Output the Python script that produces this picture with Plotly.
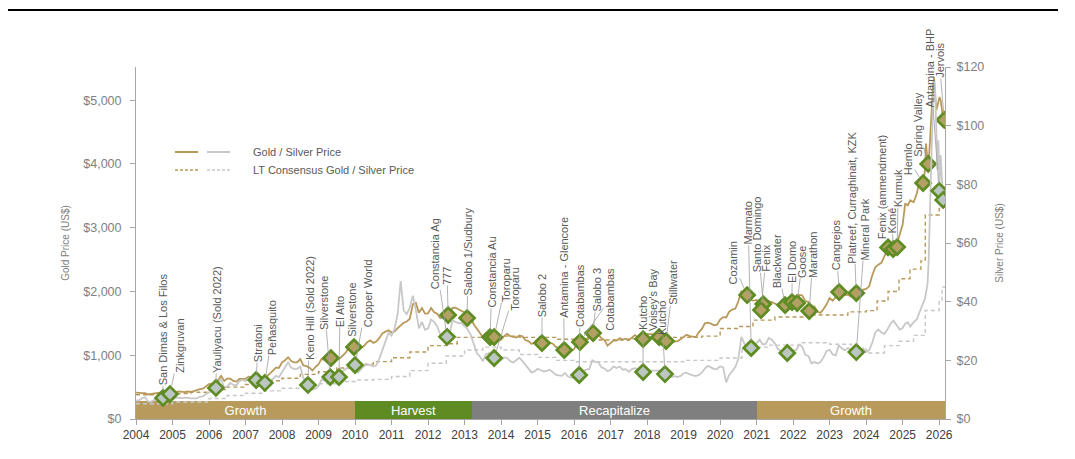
import plotly.graph_objects as go

# ---------------- data ----------------
gold_monthly = [
    414, 405, 406, 404, 384, 392, 398, 400, 406, 420, 439, 442,
    424, 423, 434, 429, 422, 431, 424, 438, 456, 470, 476, 510,
    549, 555, 557, 610, 676, 596, 633, 632, 598, 586, 628, 629,
    631, 665, 655, 679, 667, 655, 665, 665, 712, 754, 806, 803,
    889, 922, 968, 909, 888, 890, 939, 839, 829, 806, 760, 816,
    858, 943, 924, 890, 928, 946, 934, 949, 996, 1043, 1127, 1135,
    1118, 1095, 1113, 1148, 1205, 1233, 1193, 1215, 1271, 1343, 1370, 1391,
    1356, 1372, 1424, 1473, 1510, 1529, 1573, 1800, 1820, 1666, 1739, 1652,
    1656, 1742, 1673, 1650, 1585, 1596, 1594, 1626, 1744, 1747, 1722, 1684,
    1671, 1627, 1593, 1487, 1414, 1343, 1286, 1347, 1349, 1316, 1275, 1225,
    1244, 1300, 1336, 1299, 1287, 1279, 1311, 1296, 1239, 1222, 1176, 1200,
    1251, 1227, 1179, 1198, 1199, 1181, 1131, 1117, 1125, 1157, 1086, 1068,
    1097, 1199, 1245, 1242, 1260, 1276, 1337, 1341, 1326, 1266, 1238, 1151,
    1192, 1234, 1231, 1266, 1246, 1260, 1236, 1283, 1315, 1280, 1283, 1265,
    1331, 1331, 1325, 1335, 1303, 1282, 1238, 1201, 1198, 1215, 1221, 1250,
    1291, 1320, 1300, 1286, 1284, 1359, 1413, 1500, 1510, 1495, 1470, 1480,
    1560, 1597, 1592, 1683, 1716, 1732, 1847, 2010, 1922, 1900, 1866, 1858,
    1867, 1808, 1718, 1760, 1850, 1834, 1807, 1785, 1776, 1777, 1821, 1790,
    1817, 1856, 1948, 1937, 1849, 1837, 1732, 1765, 1681, 1664, 1726, 1798,
    1898, 1855, 1913, 2000, 1992, 1943, 1950, 1919, 1916, 1916, 1985, 2030,
    2040, 2080, 2250, 2380, 2420, 2450, 2550, 2650, 2700,
]
silver_monthly = [
    6.3, 6.3, 7.1, 7.4, 5.9, 5.9, 6.5, 6.6, 6.3, 7.1, 7.5, 7.0,
    6.7, 7.2, 7.3, 7.1, 7.2, 7.3, 7.0, 6.9, 7.0, 7.6, 7.7, 8.5,
    9.0, 9.6, 10.4, 12.6, 13.4, 10.7, 11.1, 12.3, 11.6, 11.5, 12.9, 13.3,
    12.9, 13.9, 13.1, 13.6, 13.3, 13.3, 12.9, 12.1, 12.8, 13.7, 14.7, 14.3,
    16.0, 17.6, 19.3, 17.5, 17.0, 17.1, 17.8, 14.1, 12.0, 10.2, 10.0, 10.3,
    11.3, 13.4, 13.1, 12.5, 14.0, 14.7, 13.4, 14.3, 16.4, 17.2, 17.8, 17.6,
    17.8, 15.9, 17.1, 18.1, 18.5, 18.4, 17.9, 18.3, 20.6, 23.3, 26.5, 29.4,
    28.4, 30.7, 35.8, 47.0, 37.0, 35.8, 38.0, 42.0, 37.2, 30.9, 33.1, 30.4,
    30.9, 33.9, 33.1, 31.6, 28.9, 28.1, 27.4, 28.6, 33.6, 33.1, 32.7, 32.7,
    31.7, 30.6, 28.8, 25.2, 22.5, 21.4, 19.7, 22.0, 22.5, 21.9, 20.7, 19.6,
    20.0, 21.0, 20.8, 19.7, 19.3, 20.1, 20.9, 19.8, 18.4, 17.2, 15.9, 16.2,
    17.1, 16.7, 16.2, 16.4, 16.8, 16.0, 15.0, 14.9, 14.7, 15.7, 14.5, 14.1,
    14.0, 15.0, 15.4, 16.3, 16.8, 17.0, 20.0, 19.5, 19.3, 17.6, 17.2, 16.3,
    16.8, 17.9, 17.4, 17.9, 16.8, 17.0, 16.1, 17.0, 17.3, 17.1, 17.0, 16.1,
    17.2, 16.6, 16.5, 16.6, 16.5, 16.5, 15.6, 14.9, 14.3, 14.6, 14.3, 14.7,
    15.6, 15.8, 15.2, 15.0, 14.6, 15.0, 15.8, 17.2, 18.1, 17.6, 17.0, 17.1,
    18.0, 17.6, 12.5, 15.0, 16.2, 17.7, 20.5, 28.0, 25.6, 24.2, 23.7, 24.9,
    25.9, 27.0, 25.4, 25.6, 27.6, 27.0, 25.7, 23.9, 23.1, 23.4, 24.3, 22.4,
    23.4, 23.5, 25.4, 24.6, 21.9, 21.5, 19.0, 19.4, 18.9, 19.4, 21.0, 23.2,
    23.6, 22.0, 21.7, 25.1, 24.1, 23.4, 24.2, 23.5, 23.0, 22.4, 23.6, 24.1,
    22.8, 23.5, 26.0, 29.5, 30.5, 29.5, 29.0, 30.5, 32.5,
]
tail_years = [2024.75, 2024.83, 2024.92, 2025.0, 2025.07, 2025.14, 2025.21, 2025.3, 2025.39, 2025.48,
              2025.53, 2025.57, 2025.61, 2025.64, 2025.68, 2025.71, 2025.75, 2025.78, 2025.8, 2025.83,
              2025.86, 2025.89, 2025.92, 2025.95, 2025.98, 2026.01, 2026.04, 2026.07, 2026.1, 2026.14]
gold_tail = [2690, 2720, 2900, 3050, 3380, 3350, 3430, 3400, 3540, 3780,
             3680, 3700, 3900, 4320, 4050, 4000, 4370, 4700, 5000, 5200,
             5360, 5150, 4840, 4900, 4980, 5050, 5000, 4850, 4750, 4690]
silver_tail = [33.5, 32, 30.5, 31, 32.5, 33, 31.5, 33, 34, 37,
               38.5, 40, 41, 43, 46, 53, 75, 88, 97, 108,
               115, 112, 100, 85, 95, 80, 90, 82, 76, 74]

price_years = [round(2004 + i / 12, 4) for i in range(len(gold_monthly))] + tail_years
gold_price = gold_monthly + gold_tail
silver_price = silver_monthly + silver_tail

lt_gold_years = [2004.0, 2005.0, 2005.5, 2006.0, 2006.5, 2007.0, 2007.5, 2008.0, 2008.5, 2009.0,
                 2009.5, 2010.0, 2010.5, 2011.0, 2011.5, 2012.0, 2012.5, 2012.8, 2013.5, 2014.5,
                 2015.5, 2016.5, 2017.5, 2018.5, 2019.5, 2020.0, 2020.5, 2020.9, 2021.5, 2022.5,
                 2023.5, 2024.0, 2024.3, 2024.6, 2024.9, 2025.2, 2025.5, 2025.62, 2026.0, 2026.08, 2026.16]
lt_gold = [380, 400, 420, 460, 500, 540, 600, 640, 700, 740,
           800, 860, 900, 960, 1050, 1150, 1180, 1280, 1300, 1280,
           1250, 1240, 1260, 1280, 1300, 1420, 1450, 1550, 1600, 1630,
           1680, 1700, 1850, 2000, 2200, 2350, 2480, 3200, 3300, 3600, 3650]
lt_silver_years = [2004.0, 2005.0, 2006.0, 2006.5, 2007.0, 2007.5, 2008.0, 2008.5, 2009.0, 2009.5,
                   2010.0, 2010.5, 2011.0, 2011.5, 2012.0, 2012.5, 2013.0, 2013.5, 2014.0, 2014.5,
                   2015.0, 2015.5, 2016.0, 2017.0, 2018.0, 2019.0, 2020.0, 2020.6, 2021.3, 2022.2,
                   2023.0, 2023.6, 2024.0, 2024.5, 2024.9, 2025.3, 2025.62, 2026.0, 2026.08, 2026.16]
lt_silver = [5.2, 5.8, 7.0, 8.0, 8.8, 9.6, 10.5, 11.5, 12.0, 12.8,
             13.3, 13.5, 14.5, 16.5, 19.0, 21.5, 23.5, 24.5, 23.5, 22.0,
             21.0, 20.0, 19.5, 19.5, 19.5, 20.0, 20.8, 24.5, 25.2, 26.0,
             25.5, 24.0, 22.5, 25.0, 26.5, 28.5, 37.0, 40.0, 45.0, 45.0]

phase_names = ["Growth", "Harvest", "Recapitalize", "Growth"]
phase_start = [2004.0, 2010.0, 2013.2, 2021.0]
phase_end = [2010.0, 2013.2, 2021.0, 2026.16]

deal_labels = ["San Dimas & Los Filos", "Zinkgruvan", "Yauliyacu (Sold 2022)", "Stratoni", "Peñasquito",
               "Keno Hill (Sold 2022)", "", "Silverstone", "El Alto", "Silverstone", "Copper World",
               "Constancia Ag", "777", "Salobo 1/Sudbury", "Constancia Au", "Toroparu", "Toroparu",
               "Salobo 2", "Antamina - Glencore", "Cotabambas", "Cotabambas", "Salobo 3",
               "", "Kutcho", "Voisey's Bay", "Kutcho", "Stillwater",
               "Cozamin", "Marmato", "Santo Domingo", "Fenix", "Blackwater", "", "El Domo", "Goose",
               "Marathon", "Cangrejos", "Platreef, Curraghinait, KZK", "Mineral Park",
               "Fenix (ammendment)", "Koné", "Kurmuk", "Hemlo", "Spring Valley", "Antamina - BHP",
               "Jervois", ""]
deal_years = [2004.74, 2004.93, 2006.19, 2007.29, 2007.53,
              2008.71, 2009.34, 2009.32, 2009.56, 2009.97, 2010.0,
              2012.52, 2012.55, 2013.07, 2013.7, 2013.81, 2013.81,
              2015.12, 2015.73, 2016.16, 2016.14, 2016.52,
              2017.89, 2017.89, 2018.33, 2018.49, 2018.52,
              2020.74, 2020.85, 2021.18, 2021.12, 2021.78, 2021.84, 2021.97, 2022.11,
              2022.44, 2023.26, 2023.73, 2023.73,
              2024.6, 2024.74, 2024.85, 2025.56, 2025.7, 2026.0,
              2026.14, 2026.11]
deal_values = [7.2, 8.5, 10.6, 13.3, 12.3,
               11.6, 956, 14.3, 14.3, 1128, 18.4,
               28.0, 1630, 1583, 1285, 1285, 20.8,
               1190, 1081, 1207, 15.0, 1348,
               1254, 16.0, 1285, 15.3, 1222,
               1943, 24.2, 1802, 1708, 1787, 22.5, 1834, 1818,
               1693, 1990, 1975, 22.8,
               2690, 2665, 2696, 3700, 4000, 77.8,
               4690, 74.7]
deal_metal = ["S", "S", "S", "S", "S",
              "S", "G", "S", "S", "G", "S",
              "S", "G", "G", "G", "G", "S",
              "G", "G", "G", "S", "G",
              "G", "S", "G", "S", "G",
              "G", "S", "G", "G", "G", "S", "G", "G",
              "G", "G", "G", "S",
              "G", "G", "G", "G", "G", "S",
              "G", "S"]

# label placement (pixel offsets of the label's foot from its marker)
label_dx = [0, 10, 1, 2, 8,
            2, 0, -6, 1, -2, 13,
            -12, -1, 1, 2, 12, 21,
            0, -1, 30, 1, 4,
            0, 0, -6, -3, 7,
            -14, -3, -6, 5, -8, 0, 0, 5,
            4, -3, -4, 9,
            -6, -1, 1, -15, -11, -9,
            -5, 0]
label_dy = [-13, -21, -15, -18, -28,
            -25, 0, -47, -50, -10, -38,
            -47, -30, -23, -29, -34, -46,
            -26, -32, -12, -48, -21,
            0, -42, -6, -39, -36,
            -10, -103, -32, -38, -17, 0, -19, -25,
            -33, -22, -30, -92,
            -8, -16, -40, -8, -7, -83,
            -42, 0]

# ---------------- style ----------------
GOLD = "#B8995A"
SILVER = "#C8C8C8"
GREEN = "#5E8C23"
phase_colors = ["#B89B5C", "#5E8C23", "#7F7F7F", "#B89B5C"]
FONT = "Liberation Sans, Arial, sans-serif"
AXIS_GRAY = "#A6A6A6"
TEXT_GRAY = "#595959"
TICK_GRAY = "#808080"
BAND_HEIGHT = 285
LABEL_SIZE = 11
PAGE_OFFSET = 8  # default body margin of the html page

# Arial advance widths (per 1000 em) to centre rotated labels
_W = {' ': 278, '&': 667, '(': 333, ')': 333, ',': 278, '-': 333, '.': 278, '/': 278, "'": 191}
_W.update({d: 556 for d in '0123456789'})
_W.update(dict(zip('ABCDEFGHIJKLMNOPQRSTUVWXYZ',
                   [667, 667, 722, 722, 667, 611, 778, 722, 278, 500, 667, 556, 833, 722, 778, 667,
                    778, 722, 667, 611, 722, 667, 944, 667, 667, 611])))
_W.update(dict(zip('abcdefghijklmnopqrstuvwxyz',
                   [556, 556, 500, 556, 556, 278, 556, 556, 222, 222, 500, 222, 833, 556, 556, 556,
                    556, 333, 500, 278, 556, 500, 722, 500, 500, 500])))
_W.update({'ñ': 556, 'é': 556})


def text_len(s, size):
    return sum(_W.get(c, 556) for c in s) * size / 1000.0


fig = go.Figure()

fig.add_trace(go.Bar(
    x=[(s + e) / 2 for s, e in zip(phase_start, phase_end)],
    y=[BAND_HEIGHT] * len(phase_names),
    width=[e - s for s, e in zip(phase_start, phase_end)],
    marker=dict(color=phase_colors, line=dict(width=0)),
    text=phase_names, textposition="inside", insidetextanchor="middle",
    constraintext="none",
    textfont=dict(color="white", size=13, family=FONT),
    hoverinfo="skip", yaxis="y",
))

fig.add_trace(go.Scatter(x=lt_gold_years, y=lt_gold, mode="lines", line_shape="hv",
                         line=dict(color=GOLD, width=1.4, dash="4px,3px"), yaxis="y"))
fig.add_trace(go.Scatter(x=price_years, y=gold_price, mode="lines",
                         line=dict(color=GOLD, width=1.8), yaxis="y"))

gi = [i for i, m in enumerate(deal_metal) if m == "G"]
si = [i for i, m in enumerate(deal_metal) if m == "S"]

fig.add_trace(go.Scatter(x=lt_silver_years, y=lt_silver, mode="lines", line_shape="hv",
                         line=dict(color=SILVER, width=1.4, dash="4px,3px"), yaxis="y2"))
fig.add_trace(go.Scatter(x=price_years, y=silver_price, mode="lines",
                         line=dict(color=SILVER, width=1.8), yaxis="y2"))

fig.add_trace(go.Scatter(x=[deal_years[i] for i in gi], y=[deal_values[i] for i in gi],
                         mode="markers", yaxis="y",
                         marker=dict(symbol="diamond", size=11.5, color="#B3A064",
                                     line=dict(color=GREEN, width=2.7))))
fig.add_trace(go.Scatter(x=[deal_years[i] for i in si], y=[deal_values[i] for i in si],
                         mode="markers", yaxis="y2",
                         marker=dict(symbol="diamond", size=11.5, color="#BCC6C2",
                                     line=dict(color=GREEN, width=2.7))))

annotations = []
for lab, yr, val, met, dx, dy in zip(deal_labels, deal_years, deal_values, deal_metal, label_dx, label_dy):
    if not lab:
        continue
    length = (dx * dx + dy * dy) ** 0.5
    half = text_len(lab, LABEL_SIZE) / 2.0
    annotations.append(dict(
        x=yr, y=val, xref="x", yref="y" if met == "G" else "y2",
        text=lab, textangle=-90, showarrow=True, arrowhead=0, arrowwidth=0.8,
        arrowcolor="#A0A0A0" if length > 11 else "rgba(0,0,0,0)",
        standoff=7, ax=dx, ay=dy - half,
        font=dict(size=LABEL_SIZE, color=TEXT_GRAY, family=FONT), borderpad=0,
    ))

# legend (custom)
def px_x(p):
    return (p - 136) / 809


def px_y(p):
    return (419 - p) / 352


shapes = []
for (x0, x1, col, dash, yy) in [(175, 198, GOLD, "solid", 152), (207, 230, SILVER, "solid", 152),
                                (175, 198, GOLD, "dash", 170), (207, 230, SILVER, "dash", 170)]:
    shapes.append(dict(type="line", xref="paper", yref="paper", x0=px_x(x0), x1=px_x(x1),
                       y0=px_y(yy), y1=px_y(yy),
                       line=dict(color=col, width=2 if dash == "solid" else 1.5,
                                 dash="solid" if dash == "solid" else "3px,2px")))
for txt, yy in [("Gold / Silver Price", 152), ("LT Consensus Gold / Silver Price", 170)]:
    annotations.append(dict(x=px_x(251), y=px_y(yy), xref="paper", yref="paper", text=txt,
                            showarrow=False, xanchor="left", yanchor="middle",
                            font=dict(size=11, color=TEXT_GRAY, family=FONT)))

# top rule
shapes.append(dict(type="line", xref="paper", yref="paper", x0=px_x(8), x1=px_x(1058),
                   y0=px_y(10), y1=px_y(10), line=dict(color="black", width=2)))

gold_ticks = [0, 1000, 2000, 3000, 4000, 5000]
silver_ticks = [0, 20, 40, 60, 80, 100, 120]
year_ticks = list(range(2004, 2027))

fig.update_layout(
    width=1075, height=459,
    margin=dict(l=136 - PAGE_OFFSET, r=130 + PAGE_OFFSET, t=67 - PAGE_OFFSET, b=40 + PAGE_OFFSET),
    plot_bgcolor="white", paper_bgcolor="white",
    showlegend=False, barmode="overlay", bargap=0,
    font=dict(family=FONT),
    xaxis=dict(range=[2004, 2026.16], tickvals=year_ticks, ticktext=[str(y) for y in year_ticks],
               ticks="outside", ticklen=5, tickcolor=AXIS_GRAY, showline=True, linecolor=AXIS_GRAY,
               linewidth=1, showgrid=False, zeroline=False,
               tickfont=dict(size=12, color="#404040", family=FONT)),
    yaxis=dict(range=[0, 5520], tickvals=gold_ticks, ticktext=["${:,}".format(v) for v in gold_ticks],
               ticks="outside", ticklen=5, tickcolor=AXIS_GRAY, showline=True, linecolor=AXIS_GRAY,
               linewidth=1, showgrid=False, zeroline=False, automargin=False,
               ticklabelstandoff=6,
               tickfont=dict(size=12.5, color=TICK_GRAY, family=FONT),
               title=dict(text="Gold Price (US$)", font=dict(size=10, color=TICK_GRAY, family=FONT),
                          standoff=11)),
    yaxis2=dict(range=[0, 120], overlaying="y", side="right", tickvals=silver_ticks,
                ticktext=["${}".format(v) for v in silver_ticks],
                ticks="outside", ticklen=5, tickcolor=AXIS_GRAY, showline=True, linecolor=AXIS_GRAY,
                linewidth=1, showgrid=False, zeroline=False, automargin=False,
                ticklabelstandoff=3,
                tickfont=dict(size=12.5, color=TICK_GRAY, family=FONT),
                title=dict(text="Silver Price (US$)", font=dict(size=10, color=TICK_GRAY, family=FONT),
                           standoff=12)),
    annotations=annotations,
    shapes=shapes,
)

fig.write_html("out.html")
